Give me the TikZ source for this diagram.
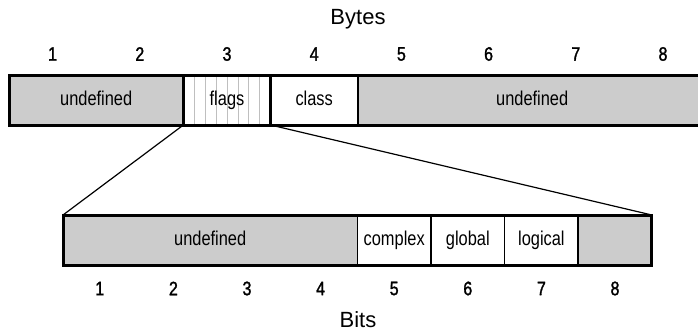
\documentclass[tikz,border=0pt]{standalone}
\usepackage{fontspec}
\setmainfont{Liberation Sans}
\newfontfamily\narrowfont[FakeStretch=0.82]{Liberation Sans}
\newfontfamily\numfont[FakeStretch=0.82,FakeBold=1.5]{Liberation Sans}
\begin{document}
\begin{tikzpicture}[x=1pt,y=-1pt,
  lbl/.style={font=\narrowfont\fontsize{20}{20}\selectfont, text height=14pt, text depth=4pt},
  cell/.style={lbl, draw=black, line width=1.5pt, anchor=north west, inner sep=0pt, outer sep=0pt,
    minimum height=50pt},
  grayc/.style={cell, fill=gray!40},
  whitec/.style={cell, fill=white},
  num/.style={font=\numfont\fontsize{19.5}{19.5}\selectfont, inner sep=0pt},
  title/.style={font=\fontsize{22}{22}\selectfont, inner sep=0pt},
  frame/.style={draw=black, line width=3pt},
  conn/.style={draw=black, line width=1.2pt}]
\useasboundingbox (0,0) rectangle (698,335);
% top bar (bytes)
\node[grayc, minimum width=174.4pt] (u1) at (9,75) {undefined};
\node[whitec, minimum width=87.2pt] (flags) at (183.4,75) {};
\foreach \i in {1,...,7}
  \draw[gray!50, line width=0.8pt] (183.4+\i*10.9,75) -- (183.4+\i*10.9,125);
\node[lbl, inner sep=0pt] (flagt) at (flags.center) {flags};
\node[whitec, minimum width=87.2pt] (class) at (270.6,75) {class};
\node[grayc, minimum width=348.8pt] (u2) at (357.8,75) {undefined};
\draw[frame] (u1.north west) rectangle (u2.south east);
\draw[frame] (flags.north west) rectangle (flags.south east);
\foreach \i in {1,...,8}
  \node[num] (b\i) at (9+87.2*\i-43.6,54) {\i};
\node[title] (bytes) at (358,19) {Bytes};
% bottom bar (bits)
\node[grayc, minimum width=294.4pt] (bu) at (63,215) {undefined};
\node[whitec, minimum width=73.6pt] (cx) at (357.4,215) {complex};
\node[whitec, minimum width=73.6pt] (gl) at (431,215) {global};
\node[whitec, minimum width=73.6pt] (lg) at (504.6,215) {logical};
\node[grayc, minimum width=73.6pt] (b8) at (578.2,215) {};
\draw[frame] (bu.north west) rectangle (b8.south east);
\foreach \i in {1,...,8}
  \node[num] (t\i) at (63+73.6*\i-36.8,288.5) {\i};
\node[title] (bits) at (358,320) {Bits};
% connectors
\draw[conn] (flags.south west) -- (bu.north west);
\draw[conn] (flags.south east) -- (b8.north east);
\end{tikzpicture}
\end{document}
